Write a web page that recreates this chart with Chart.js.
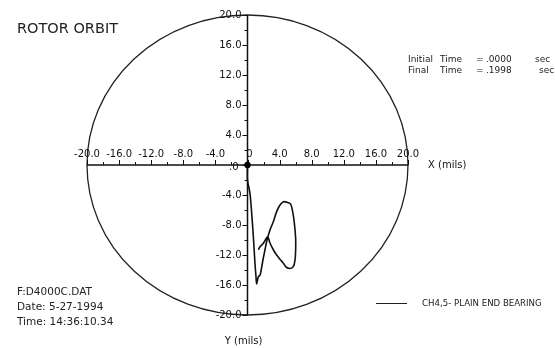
<!DOCTYPE html>
<html>
<head>
<meta charset="utf-8">
<script src="https://cdn.jsdelivr.net/npm/chart.js@4"></script>
<style>
html,body{margin:0;padding:0;background:#fff;}
#wrap{width:555px;height:348px;}
</style>
</head>
<body>
<div id="wrap"><canvas id="c" width="555" height="348"></canvas></div>
<script>
// ---- data (mils) ----
const orbitX = [0.0, 0.0, 0.31, 0.52, 0.73, 0.93, 1.06, 1.14, 1.35, 1.56, 1.77, 1.97, 2.18, 2.39, 2.80, 3.22, 3.63, 4.05, 4.47, 5.08, 5.38, 5.63, 5.84, 6.0, 6.0, 5.92, 5.71, 5.30, 4.80, 4.47, 4.13, 3.63, 3.22, 2.80, 2.51, 1.97, 1.56, 1.35];
const orbitY = [0.0, -2.0, -3.78, -6.44, -9.56, -13.1, -14.9, -15.87, -14.9, -14.7, -13.6, -12.4, -11.3, -10.2, -8.67, -7.56, -6.22, -5.33, -4.89, -5.02, -5.2, -6.22, -7.78, -9.78, -11.3, -12.67, -13.56, -13.8, -13.6, -13.1, -12.67, -12.0, -11.3, -10.4, -9.56, -10.44, -10.9, -11.3];
const xTickValues = [-20, -16, -12, -8, -4, 0, 4, 8, 12, 16, 20];
const xTickLabels = ['-20.0', '-16.0', '-12.0', '-8.0', '-4.0', '0', '4.0', '8.0', '12.0', '16.0', '20.0'];
const yTickValues = [20, 16, 12, 8, 4, 0, -4, -8, -12, -16, -20];
const yTickLabels = ['20.0', '16.0', '12.0', '8.0', '4.0', '.0', '-4.0', '-8.0', '-12.0', '-16.0', '-20.0'];
const minorStep = 2;
const orbitRadius = 20;
const seriesLabel = 'CH4,5- PLAIN END BEARING';
const titleText = 'ROTOR ORBIT';
const infoLines = [['Initial', 'Time', '=', '.0000', 'sec'], ['Final', 'Time', '=', '.1998', 'sec']];
const fileLines = ['F:D4000C.DAT', 'Date: 5-27-1994', 'Time: 14:36:10.34'];
const xAxisTitle = 'X (mils)';
const yAxisTitle = 'Y (mils)';

const FONT = '"DejaVu Sans", "Liberation Sans", sans-serif';

const overlay = {
  id: 'overlay',
  beforeDatasetsDraw(chart) {
    const ctx = chart.ctx, xs = chart.scales.x, ys = chart.scales.y;
    const cx = xs.getPixelForValue(0), cy = ys.getPixelForValue(0);
    ctx.save();
    // circle
    ctx.strokeStyle = '#222';
    ctx.lineWidth = 1.3;
    ctx.beginPath();
    ctx.ellipse(cx, cy, xs.getPixelForValue(orbitRadius) - cx, cy - ys.getPixelForValue(orbitRadius), 0, 0, Math.PI * 2);
    ctx.stroke();
    // axes
    ctx.strokeStyle = '#111';
    ctx.lineWidth = 1.5;
    ctx.beginPath();
    ctx.moveTo(xs.getPixelForValue(-20), cy); ctx.lineTo(xs.getPixelForValue(20), cy);
    ctx.moveTo(cx, ys.getPixelForValue(20)); ctx.lineTo(cx, ys.getPixelForValue(-20));
    ctx.stroke();
    // ticks
    ctx.lineWidth = 1;
    ctx.beginPath();
    for (let v = -20; v <= 20; v += minorStep) {
      const major = v % 4 === 0;
      const len = major ? 5 : 3;
      const px = Math.round(xs.getPixelForValue(v)) + 0.5;
      ctx.moveTo(px, cy); ctx.lineTo(px, cy - len);
      const py = Math.round(ys.getPixelForValue(v)) + 0.5;
      ctx.moveTo(cx, py); ctx.lineTo(cx - len, py);
    }
    ctx.stroke();
    // tick labels
    ctx.fillStyle = '#111';
    ctx.font = '10px ' + FONT;
    ctx.textAlign = 'center'; ctx.textBaseline = 'middle';
    xTickValues.forEach((v, i) => {
      ctx.fillText(xTickLabels[i], xs.getPixelForValue(v) + (v === 0 ? 2 : 0), cy - 11);
    });
    ctx.textAlign = 'right';
    yTickValues.forEach((v, i) => {
      ctx.fillText(yTickLabels[i], cx - 6 - (v === 0 ? 3 : 0), ys.getPixelForValue(v) + (v === 0 ? 2 : 0));
    });
    // axis titles
    ctx.textAlign = 'left';
    ctx.fillText(xAxisTitle, xs.getPixelForValue(20) + 20, cy);
    ctx.textAlign = 'center';
    ctx.fillText(yAxisTitle, cx - 4, ys.getPixelForValue(-20) + 26);
    ctx.restore();
  },
  afterDatasetsDraw(chart) {
    const ctx = chart.ctx, xs = chart.scales.x, ys = chart.scales.y;
    const cx = xs.getPixelForValue(0), cy = ys.getPixelForValue(0);
    ctx.save();
    ctx.fillStyle = '#000';
    ctx.beginPath(); ctx.arc(cx, cy, 3.2, 0, Math.PI * 2); ctx.fill();
    // title
    ctx.fillStyle = '#222';
    ctx.textBaseline = 'middle'; ctx.textAlign = 'left';
    ctx.font = '14.5px ' + FONT;
    ctx.fillText(titleText, 17, 29);
    // info
    ctx.font = '9px ' + FONT;
    const cols = [408, 440, 476, 486, 535];
    infoLines.forEach((ln, r) => {
      ln.forEach((t, k) => ctx.fillText(t, cols[k] + (r === 1 && k === 4 ? 4 : 0), 60 + r * 11));
    });
    // file info
    ctx.font = '10.5px ' + FONT;
    fileLines.forEach((t, r) => ctx.fillText(t, 17, 292 + r * 15));
    // legend
    ctx.strokeStyle = '#222'; ctx.lineWidth = 1;
    ctx.beginPath(); ctx.moveTo(376, 303.5); ctx.lineTo(407, 303.5); ctx.stroke();
    ctx.font = '8.6px ' + FONT;
    ctx.fillText(seriesLabel, 422, 304);
    ctx.restore();
  }
};

new Chart(document.getElementById('c'), {
  type: 'scatter',
  data: {
    datasets: [{
      label: seriesLabel,
      data: orbitX.map((x, i) => ({x: x, y: orbitY[i]})),
      showLine: true,
      borderColor: '#111',
      borderWidth: 1.6,
      pointRadius: 0,
      tension: 0.3,
      fill: false
    }]
  },
  options: {
    responsive: false,
    animation: false,
    layout: {padding: {left: 87, right: 147, top: 15, bottom: 33}},
    plugins: {legend: {display: false}, tooltip: {enabled: false}},
    scales: {
      x: {type: 'linear', min: -20, max: 20, display: false},
      y: {type: 'linear', min: -20, max: 20, display: false}
    }
  },
  plugins: [overlay]
});
</script>
</body>
</html>
